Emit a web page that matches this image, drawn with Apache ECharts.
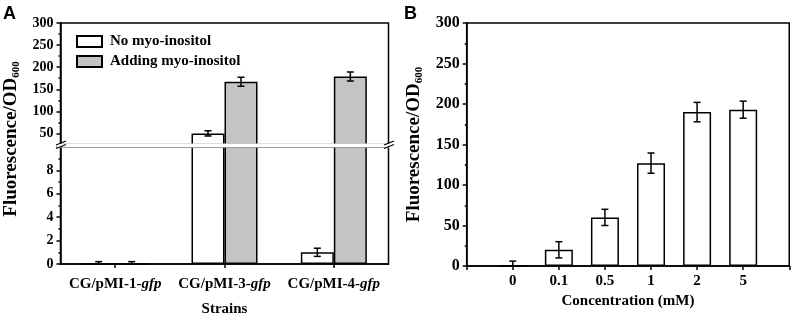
<!DOCTYPE html>
<html>
<head>
<meta charset="utf-8">
<script src="https://cdn.jsdelivr.net/npm/echarts@6/dist/echarts.min.js"></script>
<style>
  html, body { margin: 0; padding: 0; background: #fff; }
  #chart { width: 796px; height: 318px; }
</style>
</head>
<body>
<div id="chart"></div>
<script>
// panel A - strains, with / without myo-inositol (broken y axis)
var strains = ['CG/pMI-1-gfp', 'CG/pMI-3-gfp', 'CG/pMI-4-gfp'];
var noInositol = [0, 50, 1];
var noInositolErr = [0.2, 6, 0.35];
var addInositol = [0, 167, 179];
var addInositolErr = [0.2, 10, 10];
var upperTicks = [50, 100, 150, 200, 250, 300];
var upperMinorTicks = [75, 125, 175, 225, 275];

// panel B - myo-inositol concentration
var concentrations = ['0', '0.1', '0.5', '1', '2', '5'];
var fluorescence = [0, 20, 60, 127, 190, 193];
var fluorescenceErr = [6, 10, 10, 12.5, 12, 10.5];

var serif = '"Liberation Serif", "Times New Roman", serif';
var black = '#000';
var lineW = 1.5;
var axisLine = { show: true, lineStyle: { color: black, width: lineW } };
var tickStyle = { color: black, width: lineW };
var labelStyle = { color: black, fontFamily: serif, fontWeight: 'bold', fontSize: 14 };
var whiteBar = { color: '#fff', borderColor: black, borderWidth: lineW };
var grayBar = { color: '#c4c4c4', borderColor: black, borderWidth: lineW };
var yTitleRich = {
  a: { color: black, fill: black, fontFamily: serif, fontWeight: 'bold', fontSize: 19, lineHeight: 21 },
  s: { color: black, fill: black, fontFamily: serif, fontWeight: 'bold', fontSize: 11, lineHeight: 11, verticalAlign: 'bottom' }
};

var chart = echarts.init(document.getElementById('chart'), null, { renderer: 'canvas' });

// error bar drawn through the axis scale, shifted to the bar inside the group
function errorBar(offset) {
  return function (params, api) {
    var x = api.value(0);
    var hi = api.coord([x, api.value(1) + api.value(2)]);
    var lo = api.coord([x, api.value(1) - api.value(2)]);
    var cx = hi[0] + offset;
    var cap = 3.5;
    var st = { stroke: black, lineWidth: lineW, fill: null };
    return {
      type: 'group',
      children: [
        { type: 'line', shape: { x1: cx, y1: hi[1], x2: cx, y2: lo[1] }, style: st },
        { type: 'line', shape: { x1: cx - cap, y1: hi[1], x2: cx + cap, y2: hi[1] }, style: st },
        { type: 'line', shape: { x1: cx - cap, y1: lo[1], x2: cx + cap, y2: lo[1] }, style: st }
      ]
    };
  };
}

function errData(vals, errs) {
  return vals.map(function (v, i) { return [i, v, errs[i]]; });
}

function strainLabel(v) {
  var k = v.lastIndexOf('-');
  return '{n|' + v.slice(0, k + 1) + '}{i|' + v.slice(k + 1) + '}';
}

var xCats = [' '].concat(concentrations, ['  ']);

var option = {
  animation: false,
  backgroundColor: '#fff',
  title: [
    { text: 'A', left: -2, top: 0, textStyle: { fontFamily: '"Liberation Sans", Arial, sans-serif', fontWeight: 'bold', fontSize: 18, color: black } },
    { text: 'B', left: 399, top: 0, textStyle: { fontFamily: '"Liberation Sans", Arial, sans-serif', fontWeight: 'bold', fontSize: 18, color: black } }
  ],
  legend: {
    data: ['No myo-inositol', 'Adding myo-inositol'],
    orient: 'vertical',
    left: 71,
    top: 29,
    itemWidth: 25,
    itemHeight: 11,
    itemGap: 5,
    icon: 'rect',
    selectedMode: false,
    textStyle: { color: black, fontFamily: serif, fontWeight: 'bold', fontSize: 15, padding: [0, 0, 0, 3] }
  },
  grid: [
    { left: 60.5, top: 23, width: 328, height: 121.5, show: true, borderColor: black, borderWidth: lineW },
    { left: 60.5, top: 147, width: 328, height: 119, show: true, borderColor: black, borderWidth: lineW },
    { left: 466.7, top: 23, width: 326.3, height: 243, show: true, borderColor: black, borderWidth: lineW }
  ],
  xAxis: [
    { gridIndex: 0, type: 'category', data: strains, axisLine: { show: false }, axisTick: { show: false }, axisLabel: { show: false } },
    {
      gridIndex: 1, type: 'category', data: strains,
      name: 'Strains', nameLocation: 'middle', nameGap: 38,
      nameTextStyle: { color: black, fontFamily: serif, fontWeight: 'bold', fontSize: 15 },
      axisLine: axisLine,
      axisTick: { show: true, alignWithLabel: true, length: 4, lineStyle: tickStyle },
      axisLabel: {
        margin: 13, interval: 0, hideOverlap: false, formatter: strainLabel,
        rich: {
          n: { color: black, fontFamily: serif, fontWeight: 'bold', fontSize: 15 },
          i: { color: black, fontFamily: serif, fontWeight: 'bold', fontStyle: 'italic', fontSize: 15 }
        }
      }
    },
    {
      gridIndex: 2, type: 'category', data: xCats, boundaryGap: false,
      name: 'Concentration (mM)', nameLocation: 'middle', nameGap: 28,
      nameTextStyle: { color: black, fontFamily: serif, fontWeight: 'bold', fontSize: 15 },
      axisLine: axisLine,
      axisTick: { show: true, length: 4, lineStyle: tickStyle },
      axisLabel: Object.assign({ margin: 8, interval: 0 }, labelStyle, { fontSize: 15 })
    }
  ],
  yAxis: [
    {
      gridIndex: 0, type: 'value', min: 25, max: 300,
      splitLine: { show: false }, axisLine: axisLine,
      axisTick: { show: true, customValues: upperTicks, length: 4, lineStyle: tickStyle },
      axisLabel: Object.assign({ customValues: upperTicks, margin: 7 }, labelStyle)
    },
    {
      gridIndex: 0, type: 'value', position: 'left', min: 25, max: 300,
      splitLine: { show: false }, axisLine: { show: false }, axisLabel: { show: false },
      axisTick: { show: true, customValues: upperMinorTicks, length: 2, lineStyle: tickStyle }
    },
    {
      gridIndex: 1, type: 'value', min: 0, max: 10, interval: 2,
      splitLine: { show: false }, axisLine: axisLine,
      axisTick: { show: true, length: 4, lineStyle: tickStyle },
      minorTick: { show: true, splitNumber: 2, length: 2, lineStyle: tickStyle },
      axisLabel: Object.assign({ margin: 7, showMaxLabel: false }, labelStyle)
    },
    {
      gridIndex: 2, type: 'value', min: 0, max: 300, interval: 50,
      name: '{a|Fluorescence/OD}{s|600}', nameLocation: 'middle', nameGap: 42, nameRotate: 90,
      nameTextStyle: { rich: yTitleRich },
      splitLine: { show: false }, axisLine: axisLine,
      axisTick: { show: true, length: 4, lineStyle: tickStyle },
      minorTick: { show: true, splitNumber: 2, length: 2, lineStyle: tickStyle },
      axisLabel: Object.assign({ margin: 7 }, labelStyle, { fontSize: 16 })
    }
  ],
  graphic: [
    // white gap of the axis break
    { type: 'rect', z: 100, shape: { x: 57, y: 143.5, width: 336, height: 4 }, style: { fill: '#fff' } },
    { type: 'line', z: 101, shape: { x1: 56, y1: 145, x2: 66, y2: 141 }, style: { stroke: black, lineWidth: 1.3 } },
    { type: 'line', z: 101, shape: { x1: 56, y1: 148.5, x2: 66, y2: 144.5 }, style: { stroke: black, lineWidth: 1.3 } },
    { type: 'line', z: 101, shape: { x1: 384, y1: 145, x2: 394, y2: 141 }, style: { stroke: black, lineWidth: 1.3 } },
    { type: 'line', z: 101, shape: { x1: 384, y1: 148.5, x2: 394, y2: 144.5 }, style: { stroke: black, lineWidth: 1.3 } },
    {
      type: 'text', z: 101, x: 11, y: 139, rotation: Math.PI / 2,
      style: { text: '{a|Fluorescence/OD}{s|600}', align: 'center', verticalAlign: 'middle', rich: yTitleRich }
    }
  ],
  series: [
    { type: 'bar', name: 'No myo-inositol', xAxisIndex: 0, yAxisIndex: 0, data: noInositol, barWidth: 33, barGap: '0%', clip: true, itemStyle: whiteBar },
    { type: 'bar', name: 'Adding myo-inositol', xAxisIndex: 0, yAxisIndex: 0, data: addInositol, barWidth: 33, barGap: '0%', clip: true, itemStyle: grayBar },
    { type: 'bar', name: 'No myo-inositol', xAxisIndex: 1, yAxisIndex: 2, data: noInositol, barWidth: 33, barGap: '0%', clip: true, itemStyle: whiteBar },
    { type: 'bar', name: 'Adding myo-inositol', xAxisIndex: 1, yAxisIndex: 2, data: addInositol, barWidth: 33, barGap: '0%', clip: true, itemStyle: grayBar },
    { type: 'custom', name: 'errA', xAxisIndex: 0, yAxisIndex: 0, clip: true, z: 5, renderItem: errorBar(-16.5), data: errData(noInositol, noInositolErr) },
    { type: 'custom', name: 'errA', xAxisIndex: 0, yAxisIndex: 0, clip: true, z: 5, renderItem: errorBar(16.5), data: errData(addInositol, addInositolErr) },
    { type: 'custom', name: 'errA', xAxisIndex: 1, yAxisIndex: 2, clip: true, z: 5, renderItem: errorBar(-16.5), data: errData(noInositol, noInositolErr) },
    { type: 'custom', name: 'errA', xAxisIndex: 1, yAxisIndex: 2, clip: true, z: 5, renderItem: errorBar(16.5), data: errData(addInositol, addInositolErr) },
    {
      type: 'bar', name: 'B', xAxisIndex: 2, yAxisIndex: 3, barWidth: 28, clip: true, itemStyle: whiteBar,
      data: concentrations.map(function (c, i) { return [c, fluorescence[i]]; })
    },
    {
      type: 'custom', name: 'errB', xAxisIndex: 2, yAxisIndex: 3, clip: true, z: 5, renderItem: errorBar(0),
      data: concentrations.map(function (c, i) { return [c, fluorescence[i], fluorescenceErr[i]]; })
    }
  ]
};

chart.setOption(option);
</script>
</body>
</html>
